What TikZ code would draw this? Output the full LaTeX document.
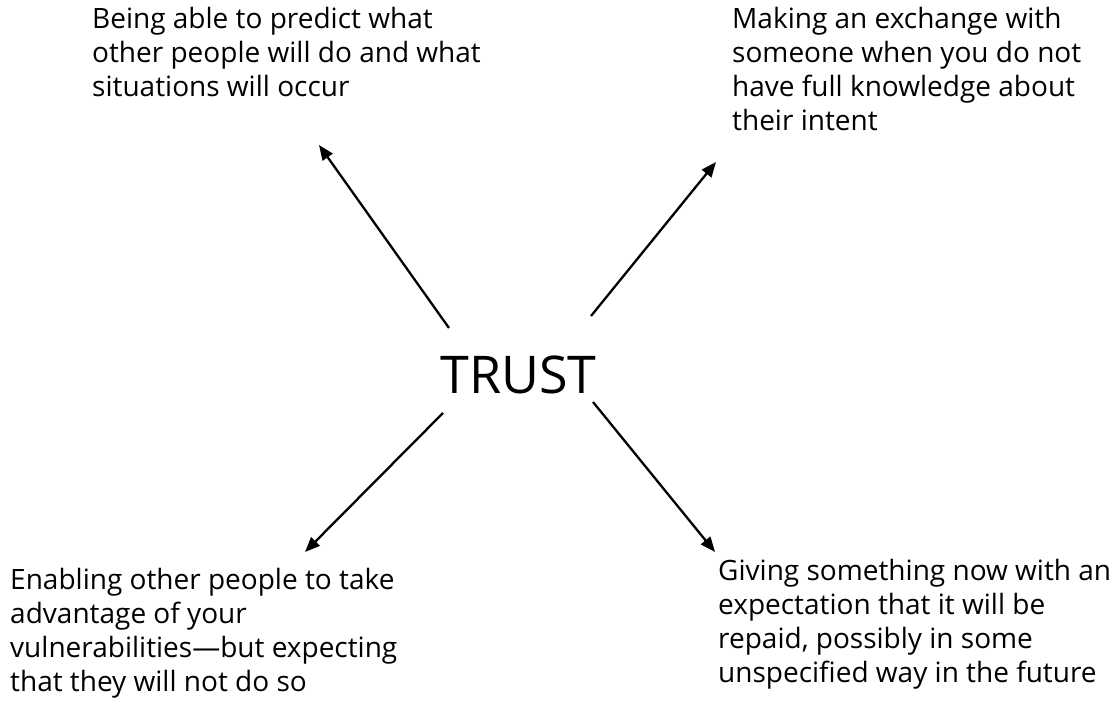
\documentclass[tikz,border=0pt]{standalone}
\usepackage{fontspec}
\setmainfont{Open Sans}
\usetikzlibrary{arrows.meta}
\begin{document}
\begin{tikzpicture}[x=1pt,y=-1pt,
  lbl/.style={anchor=north west,align=left,inner sep=0pt,font=\fontsize{28}{34}\selectfont},
  arr/.style={line width=2.3pt,-{Triangle[length=15pt,width=12pt]}}]
\useasboundingbox (0,0) rectangle (1116,719);
\node[inner sep=0pt,anchor=base,font=\fontsize{52}{60}\selectfont] (trust) at (518.5,393) {TRUST};
\node[lbl] (tl) at (92,7) {Being able to predict what\\other people will do and what\\situations will occur};
\node[lbl] (tr) at (732,7) {Making an exchange with\\someone when you do not\\have full knowledge about\\their intent};
\node[lbl] (bl) at (10,568) {Enabling other people to take\\advantage of your\\vulnerabilities---but expecting\\that they will not do so};
\node[lbl] (br) at (718,559) {Giving something now with an\\expectation that it will be\\repaid, possibly in some\\unspecified way in the future};
\coordinate (s1) at (449,328); \coordinate (e1) at (319,145);
\coordinate (s2) at (591,316); \coordinate (e2) at (716,162);
\coordinate (s3) at (443,413); \coordinate (e3) at (305,552);
\coordinate (s4) at (593,402); \coordinate (e4) at (715,552);
\draw[arr] (s1) -- (e1);
\draw[arr] (s2) -- (e2);
\draw[arr] (s3) -- (e3);
\draw[arr] (s4) -- (e4);
\end{tikzpicture}
\end{document}
